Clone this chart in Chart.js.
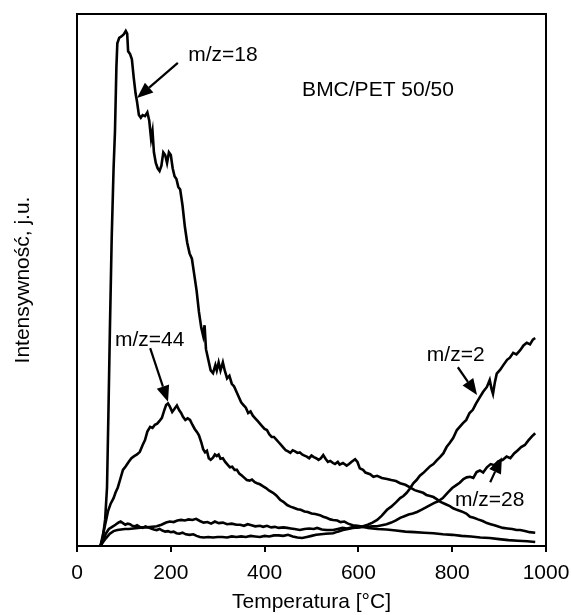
<!DOCTYPE html>
<html lang="pl">
<head>
  <meta charset="UTF-8">
  <title>BMC/PET 50/50</title>
  <script src="https://cdn.jsdelivr.net/npm/chart.js"></script>
  <style>
    body { margin: 0; background: #fff; }
    #wrap { width: 571px; height: 615px; }
  </style>
</head>
<body>
  <div id="wrap"><canvas id="ms"></canvas></div>
  <script>
    // m/z = 18
    const t18 = [50,55,60,64,67,70,74,78,81,84,86,90,95,100,104,107,109,113,117,121,125,128,132,136,140,145,150,154,158,161,164,168,172,176,180,184,188,192,196,200,204,208,212,216,220,225,230,235,240,245,250,255,260,265,269,272,275,280,285,290,295,298,302,306,311,315,320,325,330,335,340,345,350,355,360,365,370,375,380,385,390,395,400,405,410,415,420,425,430,435,440,445,450,455,460,465,470,475,480,485,490,495,500,505,510,515,520,525,530,535,540,546,550,556,560,567,575,580,585,593,598,603,610,615,625,632,640,650,661,670,680,689,700,710,720,731,738,745,753,760,767,775,785,795,802,810,820,830,838,846,855,865,874,882,890,900,908,918,928,937,945,955,965,977];
    const y18 = [0,1.5,5,11,25,40,58,71,78,90,94.5,95.5,95.8,96.2,96.8,96.3,93,92.5,91.5,88,85,83.5,81,80.5,81,80.8,81.5,80,76.5,78,74,72,71,70.5,71.5,74,73.5,72,74,73.5,71,69.5,69,67.5,67,64,60,57,55,54,51,48,44,41,39.5,41.5,37,35,33,32.5,34,33,34.5,33,34.5,33,31.5,32,30.5,30,29,28,27,26.5,26,25,25.3,24.5,24,23.5,23,22.5,22,21.8,21,20.5,20.5,20,19.5,19,18.5,18,17.8,17.5,18,17.8,17.5,17.6,17.2,17,16.8,16.5,17,16.7,16.5,16.2,16.5,17.1,16.4,15.8,16,15.6,15.4,15.8,15.3,15.6,15.1,15.4,15.8,16.3,15.8,14.6,14.3,13.8,13.5,13,13.2,12.8,12.6,12.4,12.2,11.8,11.5,11,10.5,10.2,10,9.6,9.4,9.2,8.8,8.3,7.9,7.5,7.1,6.8,6.5,6.1,5.5,5.3,5,4.7,4.3,4.1,3.9,3.6,3.4,3.3,3.2,3.0,3.0,2.8,2.6,2.5];

    // m/z = 44
    const t44 = [50,55,60,66,72,78,82,87,92,98,104,110,116,122,128,134,140,145,150,156,161,166,171,176,181,186,190,194,198,203,208,213,218,222,226,231,236,241,246,251,256,260,265,269,273,277,281,285,290,294,298,302,306,311,316,321,326,331,336,341,346,352,357,362,368,373,379,384,390,397,403,410,418,425,433,440,448,455,462,470,477,485,492,500,508,518,525,532,540,546,555,562,570,578,588,598,610,620,630,640,660,680,700,720,740,760,780,800,820,840,860,880,900,920,940,960,977];
    const y44 = [0,2,4,6.5,8,9,10,11,12.5,14.3,15,15.8,16.5,16.9,17.2,17.7,19,19.9,21.5,22.4,22.2,22.8,23,23.5,24.1,25.5,26.5,26.8,26.2,25.2,25.8,26.4,25.5,25,24.3,23.7,24,23.7,22.8,22,21.4,20.8,19.5,18.2,17.6,17.9,16.5,16.2,16.6,17.2,16.9,17.2,16.4,16.5,15.8,15.3,14.8,14.9,14.3,14.3,13.6,13.2,12.8,12.4,12.3,12.5,12,11.8,11.6,11.2,10.9,10.4,10,9.5,8.7,8.3,7.7,7.4,7.2,6.9,6.8,6.5,6.4,6.1,6,5.8,5.5,5.3,5,4.9,4.8,4.5,4.6,4.2,3.9,3.8,3.6,3.4,3.3,3.2,3.1,2.9,2.7,2.6,2.5,2.4,2.2,2.1,1.9,1.8,1.6,1.5,1.3,1.1,1,0.9,0.75];

    // m/z = 2
    const t2 = [50,56,62,68,75,82,88,93,98,103,108,113,118,123,128,134,140,146,152,158,164,170,176,182,188,194,200,206,212,218,225,232,240,248,255,262,270,280,290,300,310,320,330,340,350,360,370,380,390,400,410,420,430,440,450,460,470,480,490,500,510,520,530,546,556,567,578,588,600,610,620,630,640,650,661,670,680,689,696,703,710,717,724,731,738,745,753,760,767,774,781,788,795,802,810,816,823,830,837,844,851,859,866,874,880,884,887,891,895,902,909,917,923,930,937,945,952,959,966,972,977];
    const y2 = [0,1.2,2.4,3.2,3.6,4,4.4,4.6,4.3,4,4.2,4.1,3.8,3.7,3.9,3.6,3.4,3.7,3.5,3.3,3.1,3,3.2,2.9,2.7,2.8,2.6,2.7,2.4,2.3,2.5,2.2,2.1,2.2,1.9,1.7,1.6,1.7,1.6,1.7,1.7,1.6,1.8,1.7,1.8,1.7,1.9,1.8,1.7,1.9,1.8,2,2,1.9,2.1,1.8,1.6,1.5,1.7,1.9,2.1,2.2,2.3,2.4,2.7,3,3.2,3.4,3.5,3.7,4,4.4,4.9,5.7,6.8,7.4,8.2,9,9.4,10,10.8,11.8,12.4,13.2,13.7,14.3,15,15.4,16.1,16.7,17.4,18.6,19.4,20.3,21.8,22.4,23.1,23.7,25,25.6,26.8,28,29,29.9,31.2,29.5,28.6,30.8,32.4,33.1,34,35,35.4,36.3,36,36.8,37.7,38.2,37.9,38.8,39.1];

    // m/z = 28
    const t28 = [50,56,62,70,78,86,94,102,110,120,130,140,150,160,170,180,190,198,206,214,222,230,238,246,254,262,270,278,286,294,302,311,320,330,340,348,356,364,372,380,390,397,405,414,422,430,440,448,456,464,475,485,495,505,512,522,532,546,556,566,576,586,598,610,620,630,640,650,660,670,680,689,698,707,716,725,734,743,753,762,770,780,790,800,808,816,824,831,838,845,852,859,866,874,882,890,898,908,916,924,932,940,947,955,962,970,977];
    const y28 = [0,0.8,1.5,2.3,2.8,3,3.1,3.2,3.2,3.3,3.4,3.5,3.5,3.6,3.7,4,4.4,4.6,4.5,4.8,4.9,4.8,5,4.9,5.1,4.7,4.4,4.5,4.2,4.6,4.3,4.4,4.1,4.2,4,4,3.8,4.1,3.9,3.7,3.8,3.6,3.8,3.5,3.6,3.4,3.5,3.4,3.3,3.2,3,3.2,3.3,3.2,3.4,3.1,3,3,3.2,3.4,3.3,3.5,3.5,3.6,3.6,3.7,3.7,3.9,4.1,4.4,4.8,5.3,5.6,5.9,6.1,6.4,6.8,7.2,7.7,8.1,8.4,9,10,10.9,11.4,11.9,12.6,12.9,13,12.8,13.9,14.2,13.8,14.8,15.4,15.2,15.9,16.2,16.8,16.5,17.4,18,18.6,19,19.8,20.6,21.2];

    // labels: text, text anchor (left/middle) and arrow from -> tip, all in data units
    const notes = [
      { text: 'm/z=18', tx: 237, ty: 92.3, from: [215, 90.8], to: [128, 84.2] },
      { text: 'm/z=44', tx: 81, ty: 38.7, from: [156, 37.2], to: [194, 27.1] },
      { text: 'm/z=2', tx: 746, ty: 35.9, from: [812, 33.6], to: [853, 28.4] },
      { text: 'm/z=28', tx: 806, ty: 8.6, from: [881, 12.0], to: [906, 16.7] },
      { text: 'BMC/PET 50/50', tx: 480, ty: 85.7 }
    ];

    const FONT = "'Liberation Sans', Arial, sans-serif";
    const FS = 21;
    const zip = (xs, ys) => xs.map((x, i) => ({ x: x, y: ys[i] }));

    const series = [
      { label: 'm/z=18', t: t18, v: y18 },
      { label: 'm/z=44', t: t44, v: y44 },
      { label: 'm/z=2', t: t2, v: y2 },
      { label: 'm/z=28', t: t28, v: y28 }
    ];

    // frame around the plot + the arrow labels
    const extras = {
      id: 'extras',
      afterDatasetsDraw(chart) {
        const { ctx, chartArea: a, scales: { x, y } } = chart;
        ctx.save();
        ctx.strokeStyle = '#000';
        ctx.lineWidth = 2;
        ctx.strokeRect(a.left, a.top, a.right - a.left, a.bottom - a.top);

        ctx.fillStyle = '#000';
        ctx.font = FS + 'px ' + FONT;
        ctx.textAlign = 'left';
        ctx.textBaseline = 'middle';
        notes.forEach(n => {
          ctx.fillText(n.text, x.getPixelForValue(n.tx), y.getPixelForValue(n.ty));
          if (!n.from) return;
          const x1 = x.getPixelForValue(n.from[0]), y1 = y.getPixelForValue(n.from[1]);
          const x2 = x.getPixelForValue(n.to[0]), y2 = y.getPixelForValue(n.to[1]);
          const ang = Math.atan2(y2 - y1, x2 - x1);
          const len = 16, half = 6.5;
          const bx = x2 - len * Math.cos(ang), by = y2 - len * Math.sin(ang);
          ctx.lineWidth = 2.2;
          ctx.beginPath();
          ctx.moveTo(x1, y1);
          ctx.lineTo(bx, by);
          ctx.stroke();
          ctx.beginPath();
          ctx.moveTo(x2, y2);
          ctx.lineTo(bx + half * Math.sin(ang), by - half * Math.cos(ang));
          ctx.lineTo(bx - half * Math.sin(ang), by + half * Math.cos(ang));
          ctx.closePath();
          ctx.fill();
        });
        ctx.restore();
      }
    };

    new Chart(document.getElementById('ms'), {
      type: 'line',
      data: {
        datasets: series.map(s => ({
          label: s.label,
          data: zip(s.t, s.v),
          borderColor: '#000',
          borderWidth: 2.6,
          pointRadius: 0,
          tension: 0,
          fill: false
        }))
      },
      options: {
        responsive: true,
        maintainAspectRatio: false,
        animation: false,
        events: [],
        layout: { padding: { top: 14, right: 25, left: 0, bottom: 0 } },
        plugins: {
          legend: { display: false },
          tooltip: { enabled: false }
        },
        scales: {
          x: {
            type: 'linear',
            min: 0,
            max: 1000,
            afterFit: s => { s.height = 69; s.paddingLeft = 0; s.paddingRight = 0; },
            ticks: { stepSize: 200, color: '#000', font: { family: FONT, size: FS }, padding: 9, maxRotation: 0, callback: v => String(v) },
            grid: { drawOnChartArea: false, drawTicks: true, tickLength: 6, color: '#000', lineWidth: 2 },
            border: { display: true, color: '#000', width: 2 },
            title: { display: true, text: 'Temperatura [°C]', color: '#000', font: { family: FONT, size: FS }, padding: { top: 0, bottom: 0 } }
          },
          y: {
            min: 0,
            max: 100,
            afterFit: s => { s.width = 77; },
            ticks: { display: false },
            grid: { display: false },
            border: { display: true, color: '#000', width: 2 },
            title: { display: true, text: 'Intensywność, j.u.', color: '#000', font: { family: FONT, size: FS }, padding: { top: 11, bottom: 0 } }
          }
        }
      },
      plugins: [extras]
    });
  </script>
</body>
</html>
